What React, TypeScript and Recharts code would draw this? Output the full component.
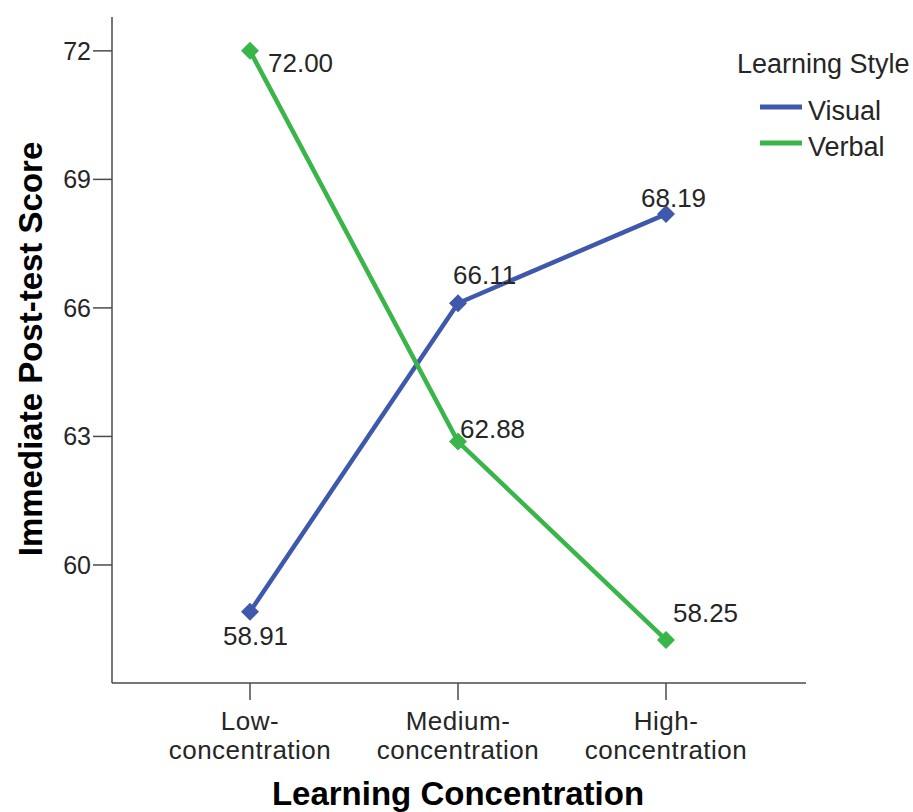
import { LineChart, Line, XAxis, YAxis, LabelList, Label } from "recharts";

const categories = ["Low-concentration", "Medium-concentration", "High-concentration"];
const visualScores = [58.91, 66.11, 68.19];
const verbalScores = [72.0, 62.88, 58.25];
const yTicks = [60, 63, 66, 69, 72];

const series = [
  { key: "visual", name: "Visual", color: "#3E58AC" },
  { key: "verbal", name: "Verbal", color: "#3AB54A" },
];

const data = categories.map((c, i) => ({
  category: c,
  visual: visualScores[i],
  verbal: verbalScores[i],
}));

// where each value label sits relative to its point (text start, baseline)
const labelOffsets: Record<string, number[][]> = {
  visual: [[-27, 33], [-5, -19], [-25, -7]],
  verbal: [[18, 21], [2, -4], [7, -18]],
};

const FONT = "'Liberation Sans', Arial, sans-serif";
const TEXT = "#262626";
const AXIS = "#4a4a4a";

function Diamond(props: any) {
  const { cx, cy, fill } = props;
  if (cx == null || cy == null) return null;
  const r = 9;
  return (
    <polygon
      points={`${cx},${cy - r} ${cx + r},${cy} ${cx},${cy + r} ${cx - r},${cy}`}
      fill={fill}
    />
  );
}

function makeValueLabel(key: string) {
  return (props: any) => {
    const { x, y, value, index } = props;
    const [dx, dy] = labelOffsets[key][index];
    return (
      <text x={x + dx} y={y + dy} fontSize={26} fontFamily={FONT} fill={TEXT}>
        {Number(value).toFixed(2)}
      </text>
    );
  };
}

function CategoryTick(props: any) {
  const { x, y, payload } = props;
  const label: string = payload.value;
  const cut = label.indexOf("-") + 1;
  return (
    <text
      x={x}
      textAnchor="middle"
      fontSize={26}
      letterSpacing={0.5}
      fontFamily={FONT}
      fill={TEXT}
    >
      <tspan x={x} y={y + 28}>{label.slice(0, cut)}</tspan>
      <tspan x={x} y={y + 57}>{label.slice(cut)}</tspan>
    </text>
  );
}

function LegendBox() {
  return (
    <svg width={200} height={130} style={{ position: "absolute", left: 733, top: 40 }}>
      <text x={4} y={33} fontSize={27} fontFamily={FONT} fill={TEXT}>
        Learning Style
      </text>
      {series.map((s, i) => (
        <g key={s.key}>
          <line x1={27} x2={69} y1={67 + i * 36} y2={67 + i * 36} stroke={s.color} strokeWidth={5} />
          <text x={75} y={80 + i * 36} fontSize={27} fontFamily={FONT} fill={TEXT}>
            {s.name}
          </text>
        </g>
      ))}
    </svg>
  );
}

export default function App() {
  return (
    <div style={{ position: "relative", width: 913, height: 812, background: "#fff" }}>
      <style>{`body{margin:0}`}</style>
      <LineChart
        width={913}
        height={812}
        data={data}
        margin={{ top: 17, right: 107, left: 0, bottom: 0 }}
      >
        <XAxis
          dataKey="category"
          height={129}
          padding={{ left: 138, right: 140 }}
          tick={<CategoryTick />}
          tickSize={17}
          stroke={AXIS}
          strokeWidth={1.5}
          interval={0}
        >
          <Label
            content={() => (
              <text
                x={458}
                y={805}
                textAnchor="middle"
                fontSize={33}
                fontWeight="bold"
                fontFamily={FONT}
                fill="#000"
              >
                Learning Concentration
              </text>
            )}
          />
        </XAxis>
        <YAxis
          type="number"
          width={112}
          domain={[57.245, 72.79]}
          allowDataOverflow
          ticks={yTicks}
          tickSize={19}
          stroke={AXIS}
          strokeWidth={1.5}
          tick={{ fontSize: 25, fontFamily: FONT, fill: TEXT }}
        >
          <Label
            content={() => (
              <text
                x={42}
                y={349}
                transform="rotate(-90 42 349)"
                textAnchor="middle"
                fontSize={33}
                fontWeight="bold"
                fontFamily={FONT}
                fill="#000"
              >
                Immediate Post-test Score
              </text>
            )}
          />
        </YAxis>
        {series.map((s) => (
          <Line
            key={s.key}
            dataKey={s.key}
            name={s.name}
            stroke={s.color}
            strokeWidth={4.5}
            fill={s.color}
            dot={<Diamond fill={s.color} />}
            activeDot={false}
            isAnimationActive={false}
          >
            <LabelList dataKey={s.key} content={makeValueLabel(s.key)} />
          </Line>
        ))}
      </LineChart>
      <LegendBox />
    </div>
  );
}
